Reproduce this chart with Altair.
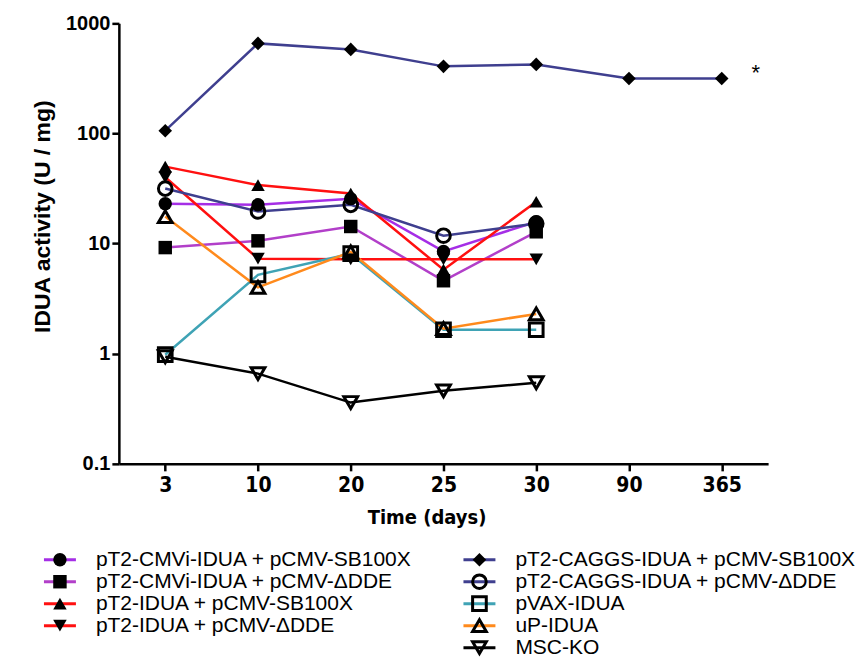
import altair as alt
import pandas as pd

days = ["3", "10", "20", "25", "30", "90", "365"]

series_names = [
    "pT2-CMVi-IDUA + pCMV-SB100X",
    "pT2-CMVi-IDUA + pCMV-ΔDDE",
    "pT2-IDUA + pCMV-SB100X",
    "pT2-IDUA + pCMV-ΔDDE",
    "pT2-CAGGS-IDUA + pCMV-SB100X",
    "pT2-CAGGS-IDUA + pCMV-ΔDDE",
    "pVAX-IDUA",
    "uP-IDUA",
    "MSC-KO",
]

cmvi_sb = [23, 22.5, 25.6, 8.5, 15.8]
cmvi_dde = [9.2, 10.6, 14.3, 4.6, 12.8]
idua_sb = [50, 34, 28.5, 5.8, 24]
idua_dde = [40, 7.3, 7.2, 7.2, 7.2]
caggs_sb = [106, 658, 580, 407, 424, 316, 316]
caggs_dde = [31.6, 19.6, 22.5, 11.8, 15.2]
pvax = [0.98, 5.2, 8.1, 1.65, 1.65]
up_idua = [17.6, 4.0, 8.4, 1.69, 2.3]
msc_ko = [0.94, 0.66, 0.36, 0.46, 0.545]

series_values = [cmvi_sb, cmvi_dde, idua_sb, idua_dde, caggs_sb,
                 caggs_dde, pvax, up_idua, msc_ko]

line_colors = ["#a52ee6", "#b23fc9", "#ff1010", "#ff1010", "#3f3f8f",
               "#3f3f8f", "#3fa3b5", "#ff8a1c", "#000000"]
shapes = ["circle", "square", "triangle-up", "triangle-down", "diamond",
          "circle", "square", "triangle-up", "triangle-down"]
filled = [True, True, True, True, True, False, False, False, False]
sizes = [180, 190, 230, 230, 270, 130, 150, 190, 190]

# legend layout: column and row of each entry
legend_col = [0, 0, 0, 0, 1, 1, 1, 1, 1]
legend_row = [0, 1, 2, 3, 0, 1, 2, 3, 4]

rows = []
for name, vals, f in zip(series_names, series_values, filled):
    for d, v in zip(days, vals):
        rows.append({"series": name, "day": d, "value": v, "filled": f})
df = pd.DataFrame(rows)

leg = pd.DataFrame({
    "series": series_names,
    "col": legend_col,
    "row": legend_row,
    "filled": filled,
})

star = pd.DataFrame({"day": ["365"], "value": [316], "txt": ["*"]})

FONT = "Liberation Sans, Arial, sans-serif"
NARROW = "Liberation Sans Narrow, DejaVu Sans Condensed, Arial Narrow, sans-serif"

color_scale = alt.Scale(domain=series_names, range=line_colors)
shape_scale = alt.Scale(domain=series_names, range=shapes)
size_scale = alt.Scale(domain=series_names, range=sizes)

x_enc = alt.X(
    "day:O",
    sort=days,
    scale=alt.Scale(domain=days, type="point", padding=0.5),
    axis=alt.Axis(
        labelAngle=0, labelFont=NARROW, labelFontSize=21, labelFontWeight="bold",
        labelPadding=4, title="Time (days)", titleFont=NARROW, titleFontSize=20,
        titleFontWeight="bold", titlePadding=12, titleX=308,
    ),
)
y_enc = alt.Y(
    "value:Q",
    scale=alt.Scale(type="log", domain=[0.1, 1000], nice=False),
    axis=alt.Axis(
        values=[0.1, 1, 10, 100, 1000], format="~g", labelFont=FONT,
        labelFontSize=20, labelFontWeight="bold", labelPadding=2,
        title="IDUA activity (U / mg)", titleFont=FONT, titleFontSize=23,
        titleFontWeight="bold", titlePadding=11, titleY=193,
    ),
)

base = alt.Chart(df)

lines = base.mark_line(strokeWidth=2.5).encode(
    x=x_enc, y=y_enc, detail="series:N",
    color=alt.Color("series:N", scale=color_scale, legend=None),
    order=alt.Order("day_idx:Q"),
).transform_calculate(day_idx="indexof(['3','10','20','25','30','90','365'], datum.day)")

pts_filled = base.transform_filter("datum.filled").mark_point(
    filled=True, color="black", opacity=1
).encode(
    x=x_enc, y=y_enc,
    shape=alt.Shape("series:N", scale=shape_scale, legend=None),
    size=alt.Size("series:N", scale=size_scale, legend=None),
)

pts_open = base.transform_filter("!datum.filled").mark_point(
    filled=False, color="black", strokeWidth=3, opacity=1
).encode(
    x=x_enc, y=y_enc,
    shape=alt.Shape("series:N", scale=shape_scale, legend=None),
    size=alt.Size("series:N", scale=size_scale, legend=None),
)

star_txt = alt.Chart(star).mark_text(
    fontSize=22, font=FONT, dx=34, dy=-5, color="black"
).encode(x=x_enc, y=y_enc, text="txt:N")

main = alt.layer(lines, pts_open, pts_filled, star_txt)

# legend drawn below the plot
lx = alt.X("col:Q", scale=alt.Scale(domain=[0, 1], range=[-59, 361], zero=False, nice=False), axis=None)
ly = alt.Y("row:Q", scale=alt.Scale(domain=[0, 4], range=[537, 625], zero=False, nice=False), axis=None)

lbase = alt.Chart(leg)
leg_rules = lbase.mark_rule(strokeWidth=3, xOffset=-16, x2Offset=16).encode(
    x=lx, x2="col:Q", y=ly,
    color=alt.Color("series:N", scale=color_scale, legend=None),
)
leg_pf = lbase.transform_filter("datum.filled").mark_point(
    filled=True, color="black", opacity=1
).encode(
    x=lx, y=ly,
    shape=alt.Shape("series:N", scale=shape_scale, legend=None),
    size=alt.Size("series:N", scale=size_scale, legend=None),
)
leg_po = lbase.transform_filter("!datum.filled").mark_point(
    filled=False, color="black", strokeWidth=3, opacity=1
).encode(
    x=lx, y=ly,
    shape=alt.Shape("series:N", scale=shape_scale, legend=None),
    size=alt.Size("series:N", scale=size_scale, legend=None),
)
leg_txt = lbase.mark_text(
    align="left", baseline="middle", dx=36, fontSize=21, font=FONT, color="black"
).encode(x=lx, y=ly, text="series:N")

legend = alt.layer(leg_rules, leg_po, leg_pf, leg_txt)

chart = alt.layer(main, legend).resolve_scale(
    x="independent", y="independent"
).properties(
    width=650, height=441,
    padding={"left": 23, "top": 5, "right": 0, "bottom": 0},
    background="white",
).configure_axis(
    domainColor="black", domainWidth=2.5, tickColor="black", tickWidth=2.5,
    tickSize=7, grid=False, labelColor="black", titleColor="black",
).configure_view(stroke=None)

chart.save("out.html", embed_options={"renderer": "svg", "actions": False})
